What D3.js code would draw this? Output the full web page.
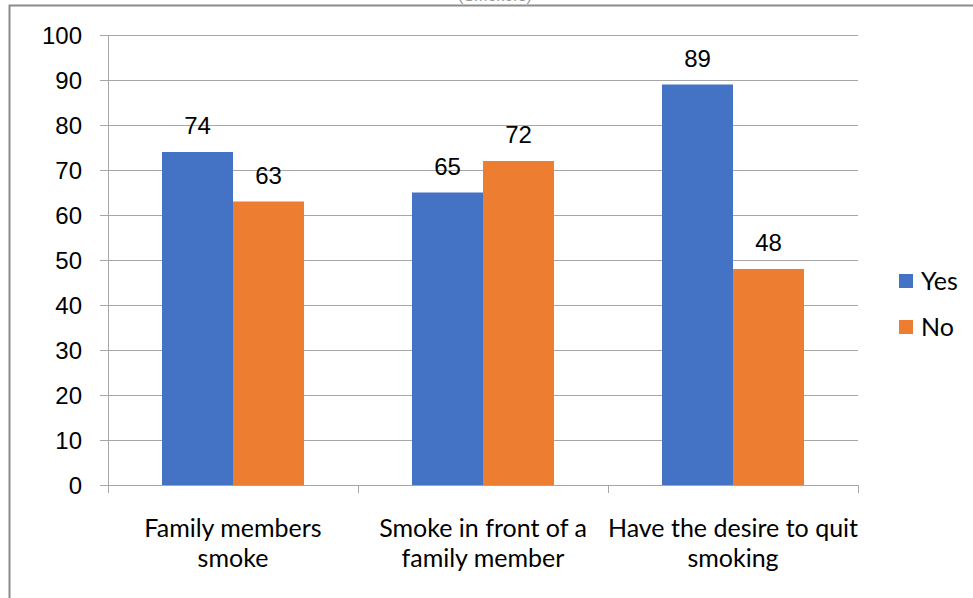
<!DOCTYPE html>
<html>
<head>
<meta charset="utf-8">
<script src="https://cdn.jsdelivr.net/npm/d3@7"></script>
<style>
  body { margin: 0; background: #fff; }
  svg { display: block; }
</style>
</head>
<body>
<div id="visContainer"></div>
<script>
const categories = [
  ["Family members", "smoke"],
  ["Smoke in front of a", "family member"],
  ["Have the desire to quit", "smoking"]
];
const seriesNames = ["Yes", "No"];
const yesValues = [74, 65, 89];
const noValues = [63, 72, 48];
const yTicks = [0, 10, 20, 30, 40, 50, 60, 70, 80, 90, 100];
const colors = ["#4472C4", "#ED7D31"];

function makeVis() {
  const width = 973;
  const height = 598;
  const margins = { left: 108, right: 115, top: 35, bottom: 113 };

  const svg = d3.create("svg")
    .attr("width", width)
    .attr("height", height);
  document.querySelector("#visContainer").append(svg.node());

  // outer frame (chart is cropped at top/right)
  svg.append("path")
    .attr("d", `M9.5,${height} V5.5 H${width}`)
    .attr("fill", "none")
    .attr("stroke", "#8c8c8c")
    .attr("stroke-width", 2);

  // clipped title remnant
  svg.append("text")
    .attr("x", 495).attr("y", 1)
    .attr("text-anchor", "middle")
    .attr("font-family", "Liberation Sans, Arial, sans-serif")
    .attr("font-size", 16)
    .attr("fill", "#999")
    .text("(Smokers)");

  const xScale = d3.scaleBand()
    .domain(d3.range(categories.length))
    .range([margins.left, width - margins.right]);
  const yScale = d3.scaleLinear()
    .domain([0, 100])
    .range([height - margins.bottom, margins.top]);
  const inner = d3.scaleBand()
    .domain(seriesNames)
    .range([0, xScale.bandwidth()])
    .paddingOuter(0.76);

  // gridlines
  svg.append("g")
    .selectAll("line")
    .data(yTicks)
    .join("line")
    .attr("x1", margins.left - 8)
    .attr("x2", width - margins.right)
    .attr("y1", d => yScale(d) + 0.5)
    .attr("y2", d => yScale(d) + 0.5)
    .attr("stroke", "#a6a6a6")
    .attr("stroke-width", 1);

  // y axis line
  svg.append("line")
    .attr("x1", margins.left + 0.5).attr("x2", margins.left + 0.5)
    .attr("y1", yScale(100)).attr("y2", yScale(0))
    .attr("stroke", "#a6a6a6");

  // y tick labels
  svg.append("g")
    .selectAll("text")
    .data(yTicks)
    .join("text")
    .attr("x", margins.left - 26)
    .attr("y", d => yScale(d))
    .attr("dy", "0.36em")
    .attr("text-anchor", "end")
    .attr("font-family", "Liberation Sans, Arial, sans-serif")
    .attr("font-size", 24)
    .attr("fill", "#000")
    .text(d => d);

  // category tick marks
  const tickXs = d3.range(categories.length + 1).map(i =>
    i < categories.length ? xScale(i) : xScale(i - 1) + xScale.bandwidth());
  svg.append("g")
    .selectAll("line")
    .data(tickXs)
    .join("line")
    .attr("x1", d => d + 0.5).attr("x2", d => d + 0.5)
    .attr("y1", yScale(0)).attr("y2", yScale(0) + 8)
    .attr("stroke", "#a6a6a6");

  const rows = [];
  categories.forEach((c, i) => {
    rows.push({ cat: i, s: "Yes", v: yesValues[i], c: colors[0] });
    rows.push({ cat: i, s: "No", v: noValues[i], c: colors[1] });
  });

  svg.append("g")
    .selectAll("rect")
    .data(rows)
    .join("rect")
    .attr("x", d => xScale(d.cat) + inner(d.s))
    .attr("width", inner.bandwidth())
    .attr("y", d => yScale(d.v))
    .attr("height", d => yScale(0) - yScale(d.v))
    .attr("fill", d => d.c);

  // value labels
  svg.append("g")
    .selectAll("text")
    .data(rows)
    .join("text")
    .attr("x", d => xScale(d.cat) + inner(d.s) + inner.bandwidth() / 2)
    .attr("y", d => yScale(d.v) - 18)
    .attr("text-anchor", "middle")
    .attr("font-family", "Liberation Sans, Arial, sans-serif")
    .attr("font-size", 24)
    .attr("fill", "#000")
    .text(d => d.v);

  // category labels
  const catG = svg.append("g")
    .selectAll("text")
    .data(categories)
    .join("text")
    .attr("text-anchor", "middle")
    .attr("font-family", "Lato, 'Open Sans', sans-serif")
    .attr("font-size", 25)
    .attr("fill", "#000");
  catG.selectAll("tspan")
    .data((d, i) => d.map((line, j) => ({ line, j, i })))
    .join("tspan")
    .attr("x", d => xScale(d.i) + xScale.bandwidth() / 2)
    .attr("y", d => 537 + d.j * 30)
    .text(d => d.line);

  // legend
  const legend = svg.append("g")
    .selectAll("g")
    .data(seriesNames)
    .join("g")
    .attr("transform", (d, i) => `translate(899, ${274 + i * 46})`);
  legend.append("rect")
    .attr("width", 14).attr("height", 14)
    .attr("fill", (d, i) => colors[i]);
  legend.append("text")
    .attr("x", 22).attr("y", 7)
    .attr("dy", "0.36em")
    .attr("font-family", "Lato, 'Open Sans', sans-serif")
    .attr("font-size", 25)
    .attr("fill", "#000")
    .text(d => d);
}

makeVis();
</script>
</body>
</html>
